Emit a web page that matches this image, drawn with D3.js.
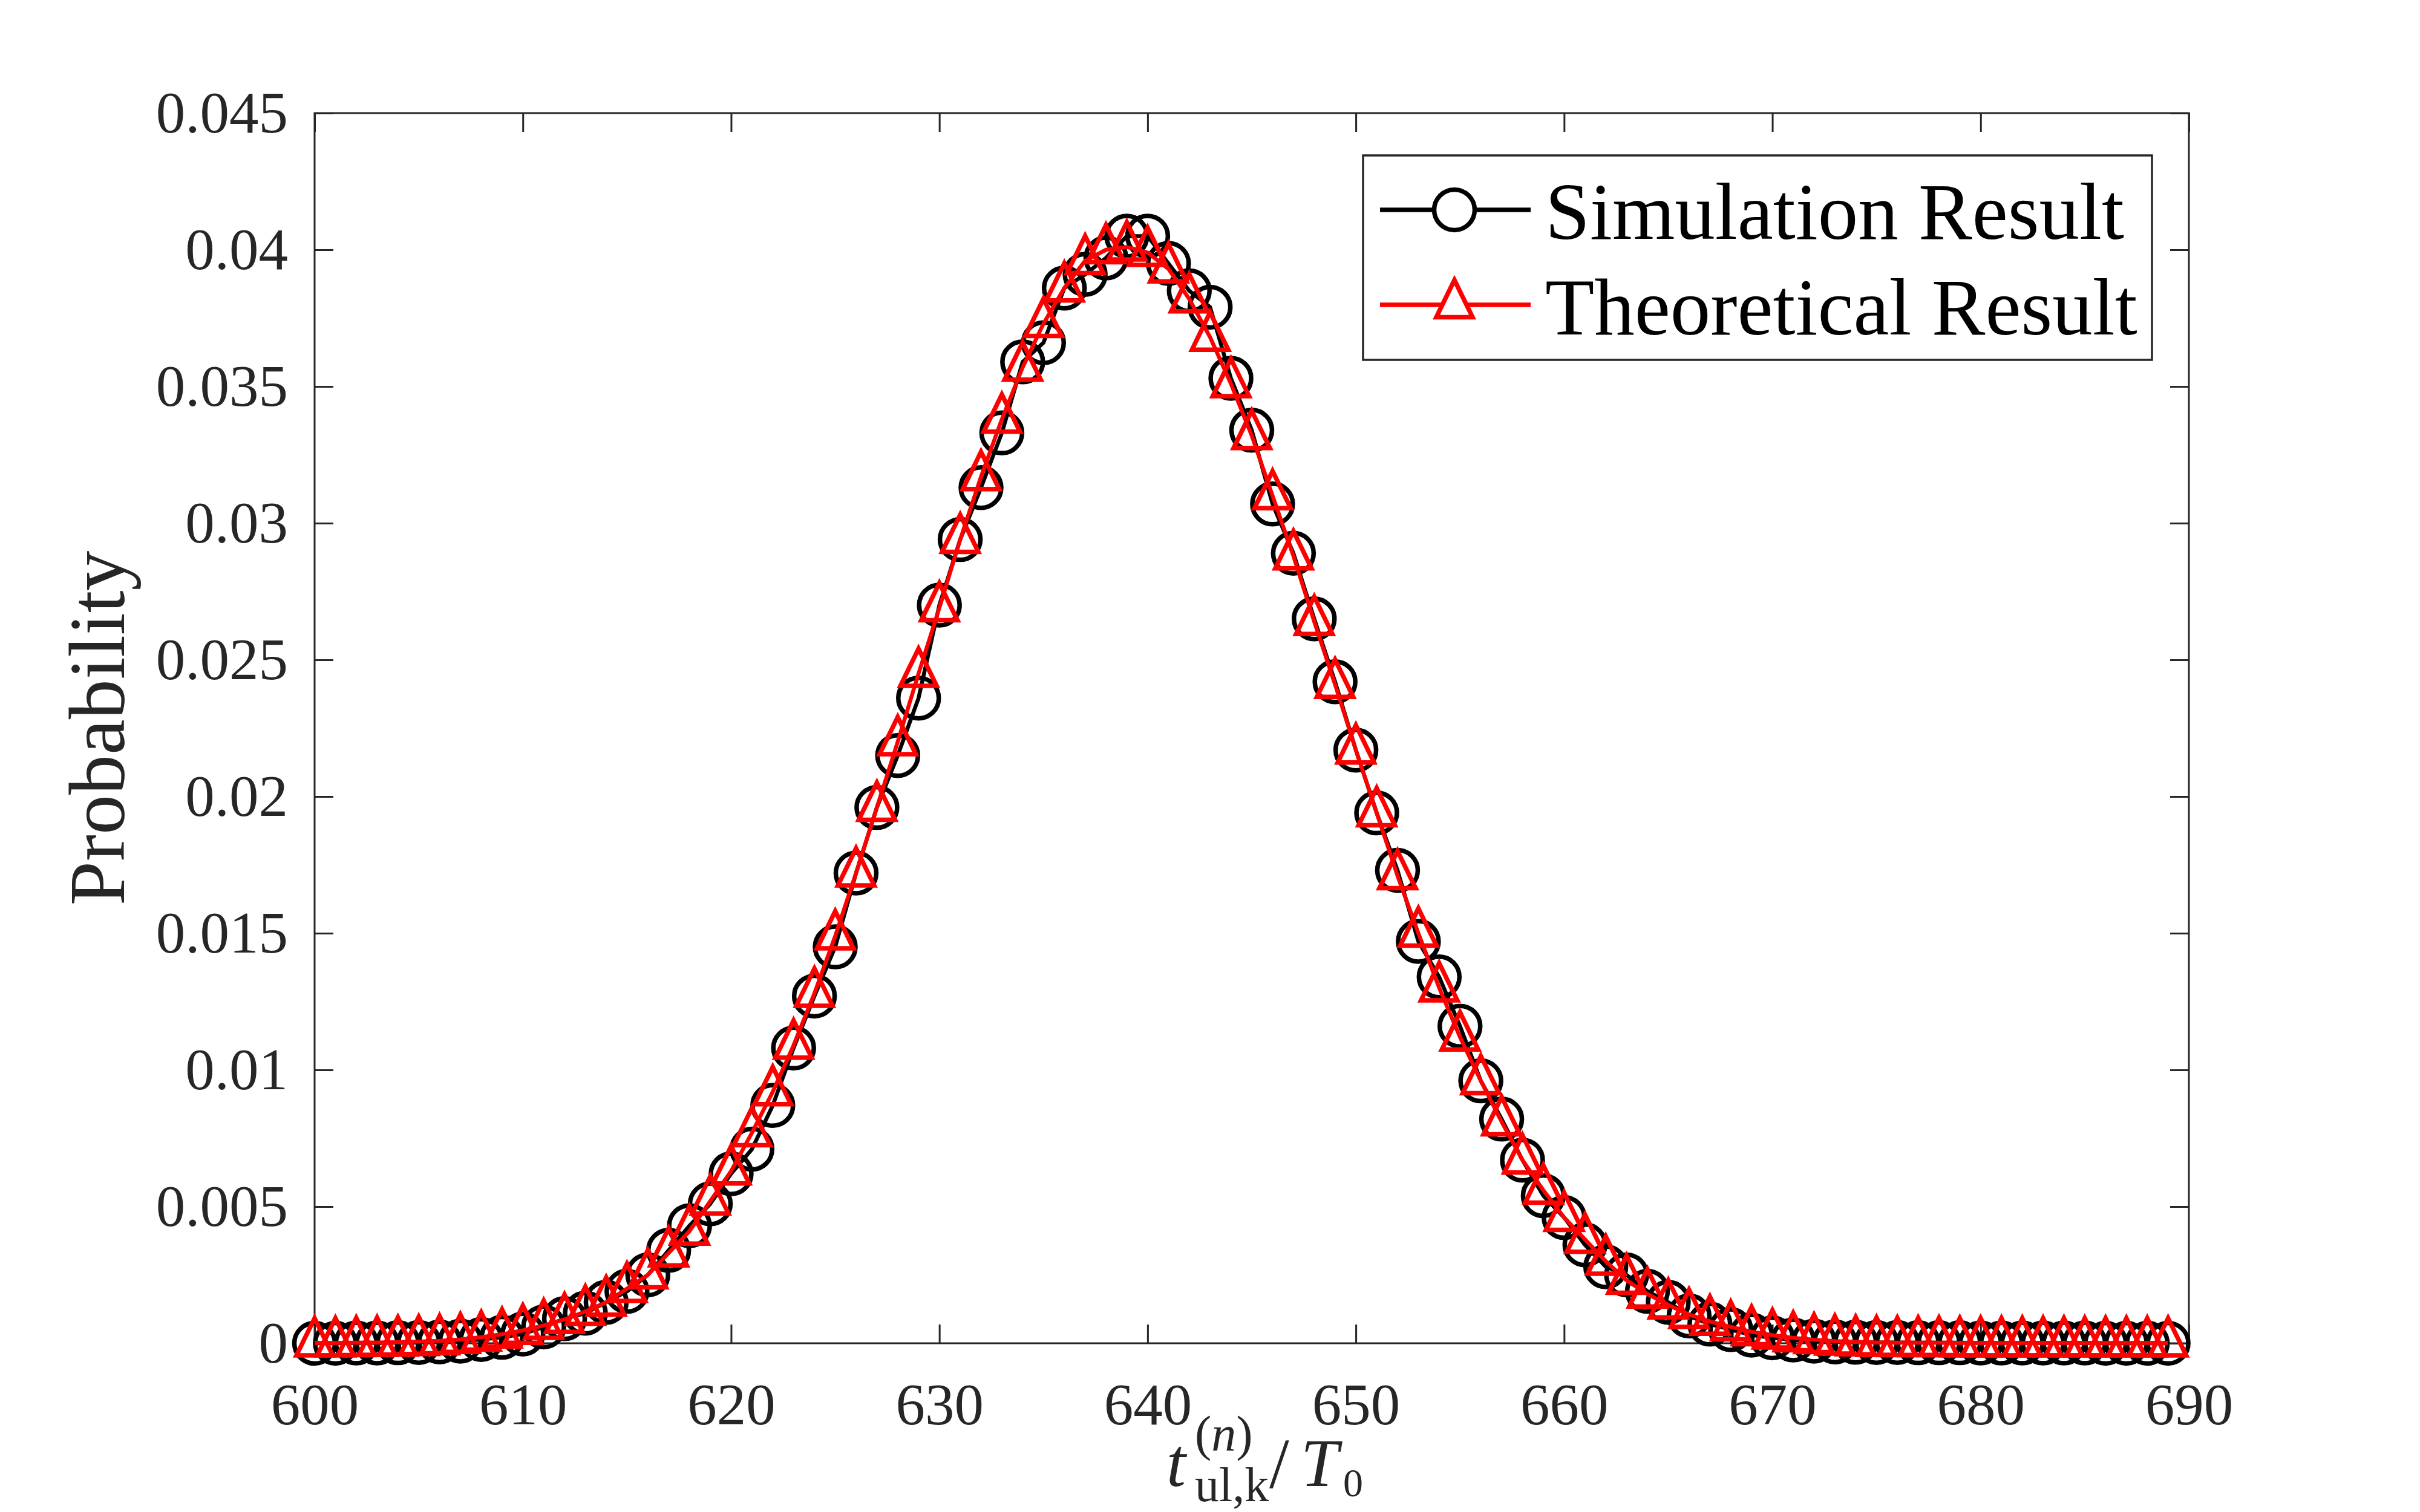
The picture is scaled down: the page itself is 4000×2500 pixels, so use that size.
<!DOCTYPE html>
<html>
<head>
<meta charset="utf-8">
<script src="https://cdn.jsdelivr.net/npm/d3@7"></script>
<style>
  body { margin: 0; background: #ffffff; }
  svg { display: block; }
</style>
</head>
<body>
<svg id="chart"></svg>
<script>
// data
const xValues = [600, 601, 602, 603, 604, 605, 606, 607, 608, 609,
                 610, 611, 612, 613, 614, 615, 616, 617, 618, 619,
                 620, 621, 622, 623, 624, 625, 626, 627, 628, 629,
                 630, 631, 632, 633, 634, 635, 636, 637, 638, 639,
                 640, 641, 642, 643, 644, 645, 646, 647, 648, 649,
                 650, 651, 652, 653, 654, 655, 656, 657, 658, 659,
                 660, 661, 662, 663, 664, 665, 666, 667, 668, 669,
                 670, 671, 672, 673, 674, 675, 676, 677, 678, 679,
                 680, 681, 682, 683, 684, 685, 686, 687, 688, 689];

const simulation = [0.00000, 0.00000, 0.00001, 0.00001, 0.00002, 0.00003, 0.00005, 0.00008, 0.00014, 0.00022,
                    0.00034, 0.0006, 0.0009, 0.0011, 0.0015, 0.0019, 0.0025, 0.0034, 0.0043, 0.0051,
                    0.0062, 0.0071, 0.0087, 0.0108, 0.0127, 0.0145, 0.0172, 0.0196, 0.0215, 0.0236,
                    0.0270, 0.0294, 0.0313, 0.0333, 0.0359, 0.0366, 0.0386, 0.0391, 0.0397, 0.0405,
                    0.0405, 0.0395, 0.0385, 0.0379, 0.0353, 0.0334, 0.0307, 0.0289, 0.0265, 0.0242,
                    0.0217, 0.0194, 0.0173, 0.0147, 0.0134, 0.0116, 0.0096, 0.0082, 0.0067, 0.0054,
                    0.0046, 0.0036, 0.0028, 0.0025, 0.0019, 0.0015, 0.0010, 0.0007, 0.0005, 0.0003,
                    0.0002, 0.00012, 0.00008, 0.00005, 0.00004, 0.00003, 0.00003, 0.00002, 0.00002, 0.00002,
                    0.00001, 0.00001, 0.00001, 0.00001, 0.00001, 0.00001, 0.00000, 0.00000, 0.00000, 0.00000];

const theoretical = [0.00001, 0.00001, 0.00002, 0.00003, 0.00004, 0.00006, 0.00009, 0.00014, 0.00022, 0.00033,
                     0.00047, 0.00065, 0.00087, 0.00116, 0.0015, 0.0020, 0.0025, 0.0033, 0.0041, 0.0052,
                     0.0063, 0.0077, 0.0092, 0.0109, 0.0128, 0.0149, 0.0172, 0.0196, 0.0220, 0.0245,
                     0.0269, 0.0294, 0.0317, 0.0338, 0.0357, 0.0373, 0.0386, 0.0396, 0.0400, 0.0401,
                     0.0399, 0.0393, 0.0382, 0.0368, 0.0351, 0.0332, 0.0310, 0.0288, 0.0264, 0.0241,
                     0.0217, 0.0194, 0.0171, 0.0150, 0.0130, 0.0112, 0.0096, 0.0081, 0.0067, 0.0056,
                     0.0046, 0.0038, 0.0030, 0.0023, 0.0018, 0.0014, 0.00105, 0.0008, 0.0006, 0.00042,
                     0.0003, 0.0002, 0.00013, 0.00008, 0.00005, 0.00003, 0.00002, 0.00002, 0.00002, 0.00001,
                     0.00001, 0.00001, 0.00001, 0.00001, 0.00001, 0.00001, 0.00001, 0.00001, 0.00001, 0.00001];

const xTicks = [600, 610, 620, 630, 640, 650, 660, 670, 680, 690];
const yTicks = [0, 0.005, 0.01, 0.015, 0.02, 0.025, 0.03, 0.035, 0.04, 0.045];
const yTickLabels = ["0", "0.005", "0.01", "0.015", "0.02", "0.025", "0.03", "0.035", "0.04", "0.045"];
const seriesNames = ["Simulation Result", "Theoretical Result"];

const width = 4000;
const height = 2500;
const plot = { left: 520, right: 3618, top: 187, bottom: 2221 };
const axisColor = "#262626";
const serif = "'Liberation Serif', 'Times New Roman', serif";

const svg = d3.select("#chart")
              .attr("width", width)
              .attr("height", height);

svg.append("rect")
   .attr("width", width)
   .attr("height", height)
   .attr("fill", "#ffffff");

const xScale = d3.scaleLinear().domain([600, 690]).range([plot.left, plot.right]);
const yScale = d3.scaleLinear().domain([0, 0.045]).range([plot.bottom, plot.top]);

// axes - ticks point inward on all four sides
const tickLen = 31;

function styleAxis(g) {
	g.select(".domain").remove();
	g.selectAll(".tick line")
	 .attr("stroke", axisColor)
	 .attr("stroke-width", 3);
	g.selectAll("text")
	 .attr("fill", axisColor)
	 .attr("font-family", serif)
	 .attr("font-size", 97);
}

svg.append("g")
   .attr("transform", `translate(0, ${plot.bottom})`)
   .call(d3.axisBottom(xScale).tickValues(xTicks).tickFormat(d3.format("d"))
           .tickSizeInner(-tickLen).tickSizeOuter(0).tickPadding(65))
   .call(styleAxis);

svg.append("g")
   .attr("transform", `translate(0, ${plot.top})`)
   .call(d3.axisTop(xScale).tickValues(xTicks).tickFormat("")
           .tickSizeInner(-tickLen).tickSizeOuter(0))
   .call(styleAxis);

svg.append("g")
   .attr("transform", `translate(${plot.left}, 0)`)
   .call(d3.axisLeft(yScale).tickValues(yTicks).tickFormat((d, i) => yTickLabels[i])
           .tickSizeInner(-tickLen).tickSizeOuter(0).tickPadding(44))
   .call(styleAxis);

svg.append("g")
   .attr("transform", `translate(${plot.right}, 0)`)
   .call(d3.axisRight(yScale).tickValues(yTicks).tickFormat("")
           .tickSizeInner(-tickLen).tickSizeOuter(0))
   .call(styleAxis);

// box
svg.append("rect")
   .attr("x", plot.left)
   .attr("y", plot.top)
   .attr("width", plot.right - plot.left)
   .attr("height", plot.bottom - plot.top)
   .attr("fill", "none")
   .attr("stroke", axisColor)
   .attr("stroke-width", 3);

// markers
const circleR = 33.5;
const markerStroke = 7.5;
const triPath = "M0,-41L30,20.5L-30,20.5Z";

const line = d3.line()
               .x((d, i) => xScale(xValues[i]))
               .y(d => yScale(d));

// simulation: black line + open circles
svg.append("path")
   .datum(simulation)
   .attr("d", line)
   .attr("fill", "none")
   .attr("stroke", "#000000")
   .attr("stroke-width", 6.5)
   .attr("stroke-linejoin", "round");

svg.append("g")
   .selectAll("circle")
   .data(simulation)
   .enter()
   .append("circle")
   .attr("cx", (d, i) => xScale(xValues[i]))
   .attr("cy", d => yScale(d))
   .attr("r", circleR)
   .attr("fill", "none")
   .attr("stroke", "#000000")
   .attr("stroke-width", markerStroke);

// theoretical: red line + open triangles
svg.append("path")
   .datum(theoretical)
   .attr("d", line)
   .attr("fill", "none")
   .attr("stroke", "#ff0000")
   .attr("stroke-width", 6.5)
   .attr("stroke-linejoin", "round");

svg.append("g")
   .selectAll("path")
   .data(theoretical)
   .enter()
   .append("path")
   .attr("transform", (d, i) => `translate(${xScale(xValues[i])}, ${yScale(d)})`)
   .attr("d", triPath)
   .attr("fill", "none")
   .attr("stroke", "#ff0000")
   .attr("stroke-width", markerStroke)
   .attr("stroke-linejoin", "miter");

// y label
svg.append("text")
   .attr("transform", `translate(205, ${(plot.top + plot.bottom) / 2}) rotate(-90)`)
   .attr("text-anchor", "middle")
   .attr("font-family", serif)
   .attr("font-size", 132)
   .attr("fill", axisColor)
   .text("Probability");

// x label: t^(n)_{ul,k} / T_0, one text with positioned tspans
const xLab = svg.append("text")
                .attr("x", 1928)
                .attr("y", 2457)
                .attr("font-family", serif)
                .attr("font-size", 115)
                .attr("fill", axisColor);

xLab.append("tspan").attr("font-style", "italic").text("t");
xLab.append("tspan").attr("x", 1975).attr("y", 2398).attr("font-size", 82).text("(");
xLab.append("tspan").attr("font-size", 82).attr("font-style", "italic").text("n");
xLab.append("tspan").attr("font-size", 82).text(")");
xLab.append("tspan").attr("x", 1975).attr("y", 2482).attr("font-size", 80).text("ul,k");
xLab.append("tspan").attr("x", 2098).attr("y", 2460).attr("font-size", 118).text("/");
xLab.append("tspan").attr("x", 2150).attr("y", 2457).attr("font-size", 112).attr("font-style", "italic").text("T");
xLab.append("tspan").attr("x", 2220).attr("y", 2474).attr("font-size", 66).text("0");

// legend
const legend = svg.append("g");

legend.append("rect")
      .attr("x", 2253)
      .attr("y", 257)
      .attr("width", 3557 - 2253)
      .attr("height", 595 - 257)
      .attr("fill", "#ffffff")
      .attr("stroke", axisColor)
      .attr("stroke-width", 3.5);

const legendRows = [
	{ name: seriesNames[0], color: "#000000", y: 347, base: 395 },
	{ name: seriesNames[1], color: "#ff0000", y: 504, base: 553 }
];

legendRows.forEach((row, i) => {
	legend.append("line")
	      .attr("x1", 2281)
	      .attr("x2", 2530)
	      .attr("y1", row.y)
	      .attr("y2", row.y)
	      .attr("stroke", row.color)
	      .attr("stroke-width", 7.5);

	if (i === 0) {
		legend.append("circle")
		      .attr("cx", 2404)
		      .attr("cy", row.y)
		      .attr("r", circleR)
		      .attr("fill", "#ffffff")
		      .attr("stroke", row.color)
		      .attr("stroke-width", markerStroke);
	} else {
		legend.append("path")
		      .attr("transform", `translate(2404, ${row.y})`)
		      .attr("d", triPath)
		      .attr("fill", "#ffffff")
		      .attr("stroke", row.color)
		      .attr("stroke-width", markerStroke);
	}

	legend.append("text")
	      .attr("x", 2554)
	      .attr("y", row.base)
	      .attr("font-family", serif)
	      .attr("font-size", 133)
	      .attr("fill", "#000000")
	      .text(row.name);
});
</script>
</body>
</html>
